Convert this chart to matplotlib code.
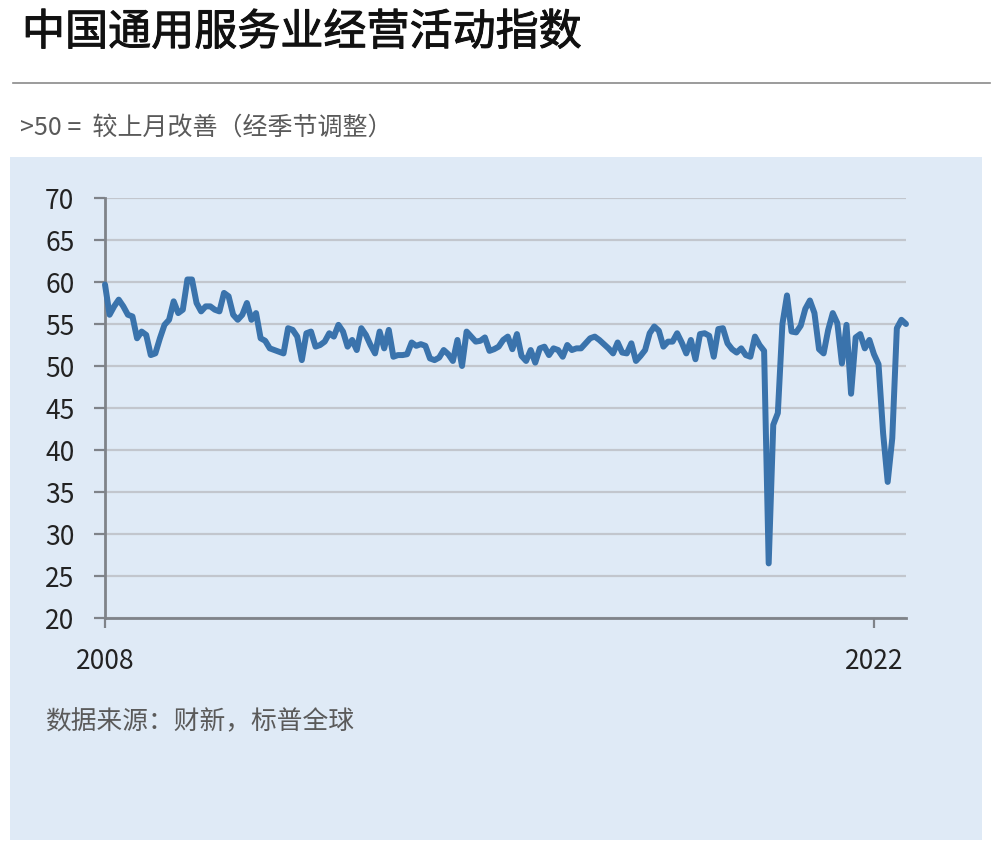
import matplotlib
matplotlib.use("Agg")
import matplotlib.pyplot as plt
import matplotlib.patheffects as pe
from matplotlib.patches import Rectangle
from matplotlib.lines import Line2D

plt.rcParams['font.family'] = ['Noto Sans CJK SC', 'DejaVu Sans']

# Monthly index, Jan 2008 .. Aug 2022
pmi = [
    59.7, 56.1, 57.1, 57.9, 57.1, 56.1, 55.9, 53.3, 54.1, 53.7, 51.3, 51.5,   # 2008
    53.3, 54.9, 55.5, 57.7, 56.3, 56.7, 60.3, 60.3, 57.5, 56.5, 57.1, 57.1,   # 2009
    56.7, 56.5, 58.7, 58.3, 56.1, 55.5, 56.1, 57.5, 55.5, 56.3, 53.3, 53.0,   # 2010
    52.1, 51.9, 51.7, 51.5, 54.5, 54.3, 53.5, 50.7, 53.9, 54.1, 52.3, 52.5,   # 2011
    52.9, 53.9, 53.5, 54.9, 54.1, 52.3, 53.1, 51.9, 54.5, 53.7, 52.5, 51.5,   # 2012
    54.1, 52.1, 54.3, 51.1, 51.3, 51.3, 51.4, 52.8, 52.4, 52.6, 52.4, 50.9,   # 2013
    50.7, 51.0, 51.9, 51.4, 50.6, 53.1, 50.0, 54.1, 53.5, 52.9, 53.0, 53.4,   # 2014
    51.8, 52.0, 52.3, 53.1, 53.5, 52.0, 53.8, 51.2, 50.6, 51.9, 50.4, 52.1,   # 2015
    52.3, 51.3, 52.1, 51.9, 51.1, 52.5, 51.9, 52.1, 52.1, 52.7, 53.3, 53.5,   # 2016
    53.1, 52.6, 52.1, 51.5, 52.8, 51.6, 51.5, 52.7, 50.6, 51.2, 51.9, 53.9,   # 2017
    54.7, 54.2, 52.3, 52.9, 52.9, 53.9, 52.8, 51.5, 53.1, 50.8, 53.8, 53.9,   # 2018
    53.6, 51.1, 54.4, 54.5, 52.7, 52.0, 51.6, 52.1, 51.3, 51.1, 53.5, 52.5,   # 2019
    51.8, 26.5, 43.0, 44.4, 55.0, 58.4, 54.1, 54.0, 54.8, 56.8, 57.8, 56.3,   # 2020
    52.0, 51.5, 54.3, 56.3, 55.1, 50.3, 54.9, 46.7, 53.4, 53.8, 52.1, 53.1,   # 2021
    51.4, 50.2, 42.0, 36.2, 41.4, 54.5, 55.5, 55.0,                           # 2022
]
months = list(range(len(pmi)))
x_tick_pos = [0, 168]
x_tick_labels = ["2008", "2022"]
y_ticks = [20, 25, 30, 35, 40, 45, 50, 55, 60, 65, 70]

title = "中国通用服务业经营活动指数"
subtitle = ">50 =  较上月改善（经季节调整）"
source = "数据来源：财新，标普全球"

panel_bg = "#DFEAF6"
line_color = "#3A73AC"
axis_gray = "#7F8389"
grid_gray = "#C2C6CD"

fig = plt.figure(figsize=(10, 8.55), dpi=100)
fig.patch.set_facecolor("white")

# background panel
fig.patches.append(Rectangle((0.010, 1 - 840 / 855), 0.972, (840 - 157) / 855,
                             transform=fig.transFigure, facecolor=panel_bg,
                             edgecolor="none", zorder=-5))
# divider line under title
fig.lines.append(Line2D([0.013, 0.990], [1 - 83 / 855, 1 - 83 / 855],
                        transform=fig.transFigure, color="#8A8A8A", lw=1.2,
                        zorder=-5))

fig.text(0.022, 1 - 33 / 855, title, fontsize=31,
         color="#111111", va="center", ha="left",
         path_effects=[pe.withStroke(linewidth=0.7, foreground="#111111")])
fig.text(0.020, 1 - 128 / 855, subtitle, fontsize=18, color="#5A5A5A",
         va="center", ha="left")
fig.text(0.045, 1 - 722 / 855, source, fontsize=18.5, color="#5A5A5A",
         va="center", ha="left")

ax = fig.add_axes([0.105, 1 - 618 / 855, 0.801, (618 - 198) / 855])
ax.set_zorder(5)
ax.set_facecolor("none")
ax.plot(months, pmi, color=line_color, lw=4.3, solid_joinstyle="round",
        solid_capstyle="round", zorder=3, clip_on=False)

ax.set_ylim(20, 70)
ax.set_xlim(0, len(pmi) - 1)
ax.set_yticks(y_ticks)
ax.set_xticks(x_tick_pos)
ax.set_xticklabels(x_tick_labels)
ax.yaxis.grid(True, color=grid_gray, lw=1.6)
ax.set_axisbelow(True)

for s in ["top", "right"]:
    ax.spines[s].set_visible(False)
for s in ["left", "bottom"]:
    ax.spines[s].set_color(axis_gray)
    ax.spines[s].set_linewidth(2.0)

ax.tick_params(axis="both", direction="out", color=axis_gray, width=1.6,
               labelsize=19, labelcolor="#222222")
ax.tick_params(axis="y", length=8, pad=14)
ax.tick_params(axis="x", length=7.5, pad=14)

fig.savefig("out.png", dpi=100, facecolor="white")
